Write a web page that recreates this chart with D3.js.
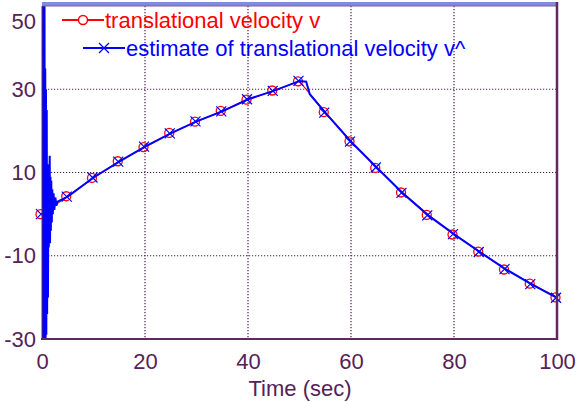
<!DOCTYPE html>
<html>
<head>
<meta charset="utf-8">
<script src="https://cdn.jsdelivr.net/npm/d3@7"></script>
<style>
  html, body { margin: 0; padding: 0; background: #ffffff; }
  svg { display: block; }
  text { font-family: "Liberation Sans", Arial, sans-serif; }
</style>
</head>
<body>
<svg id="chart" width="576" height="402"></svg>
<script>
// Sampled translational velocity v (every 5 s)
const timeV = [0, 5, 10, 15, 20, 25, 30, 35, 40, 45, 50, 55, 60, 65, 70, 75, 80, 85, 90, 95, 100];
const velocity = [0, 4.3, 8.7, 12.7, 16.1, 19.5, 22.2, 24.8, 27.5, 29.7, 31.9, 24.5, 17.5, 11.1, 5.2, -0.2, -4.9, -9.0, -13.3, -16.7, -20.0];

// Observer estimate v^ : start-up transient, then tracking
const timeEst = [0, 0.07, 0.14, 0.21, 0.28, 0.35, 0.42, 0.49, 0.56, 0.63, 0.7, 0.77, 0.84, 0.92, 1.0,
                 1.08, 1.16, 1.24, 1.32, 1.4, 1.5, 1.56, 1.64, 1.72, 1.8, 1.9, 2.0, 2.1, 2.25, 2.4, 2.6, 2.8, 3.0,
                 5, 10, 15, 20, 25, 30, 35, 40, 45, 50, 51.3, 52, 55, 60, 65, 70, 75, 80, 85, 90, 95, 100];
const estimate = [0, 58, -31, 57, -31, 56, -31, 50, -31, 35, -31, 30, -29, 25, -24,
                  12, -20, 7, -8, 6, 14, -7, 9, -4, 8, -2, 6, 0, 5, 1, 4, 2, 3,
                  4.2, 8.8, 12.6, 16.2, 19.4, 22.3, 24.7, 27.6, 29.6, 32.0, 31.8, 28.8, 24.4, 17.4, 11.2, 5.1, -0.3, -4.8, -9.1, -13.2, -16.8, -20.1];

// Axis ticks
const xTicks = [0, 20, 40, 60, 80, 100];
const yTicks = [-30, -10, 10, 30, 50];

const legendLabels = ["translational velocity v", "estimate of translational velocity v^"];

const axisColor = "#5e2a60";
const gridColor = "#4a1c4c";
const labelColor = "#552257";
const red = "#ff0000";
const blue = "#0000ff";

const svg = d3.select("#chart");
const plotLeft = 42, plotRight = 557, plotTop = 6, plotBottom = 339;

const x = d3.scaleLinear().domain([0, 100]).range([plotLeft, plotRight]);
const y = d3.scaleLinear().domain([-30, 50]).range([plotBottom, plotTop]);

// Dotted grid
const grid = svg.append("g");
grid.selectAll("line.gx").data(xTicks.filter(t => t > 0 && t < 100)).enter().append("line")
  .attr("x1", d => x(d)).attr("x2", d => x(d)).attr("y1", plotTop).attr("y2", plotBottom)
  .attr("stroke", gridColor).attr("stroke-width", 1.2).attr("stroke-dasharray", "1.2,1.8");
grid.selectAll("line.gy").data(yTicks.filter(t => t > -30 && t < 50)).enter().append("line")
  .attr("x1", plotLeft).attr("x2", plotRight).attr("y1", d => y(d)).attr("y2", d => y(d))
  .attr("stroke", gridColor).attr("stroke-width", 1.2).attr("stroke-dasharray", "1.2,1.8");

// Axes
const fmt = d => String(d);
const xAxis = svg.append("g").attr("transform", `translate(0,${plotBottom})`)
  .call(d3.axisBottom(x).tickValues(xTicks).tickSize(0).tickPadding(14).tickFormat(fmt));
const yAxis = svg.append("g").attr("transform", `translate(${plotLeft},0)`)
  .call(d3.axisLeft(y).tickValues(yTicks).tickSize(0).tickPadding(6).tickFormat(fmt));
[xAxis, yAxis].forEach(a => {
  a.select(".domain").remove();
  a.selectAll("text").attr("fill", labelColor).style("font-size", "22px")
    .style("font-family", '"Liberation Sans", Arial, sans-serif');
});
// top label sits just inside the frame
yAxis.selectAll(".tick").filter(d => d === 50).select("text").attr("dy", "1.0em");

svg.append("text").attr("x", 300).attr("y", 396).attr("text-anchor", "middle")
  .attr("fill", labelColor).style("font-size", "22px").text("Time (sec)");

// Data
svg.append("clipPath").attr("id", "plotclip").append("rect")
  .attr("x", plotLeft).attr("y", plotTop).attr("width", plotRight - plotLeft).attr("height", plotBottom - plotTop);

const line = d3.line().x(d => x(d[0])).y(d => y(d[1]));
const vData = timeV.map((t, i) => [t, velocity[i]]);
const eData = timeEst.map((t, i) => [t, estimate[i]]);

svg.append("path").datum(vData).attr("d", line).attr("fill", "none")
  .attr("stroke", red).attr("stroke-width", 1.2).attr("clip-path", "url(#plotclip)");

svg.selectAll("circle.v").data(vData).enter().append("circle")
  .attr("cx", d => x(d[0]) - 1.5).attr("cy", d => y(d[1])).attr("r", 4.5)
  .attr("fill", "none").attr("stroke", red).attr("stroke-width", 1.3);

svg.append("path").datum(eData).attr("d", line).attr("fill", "none")
  .attr("stroke", blue).attr("stroke-width", 2).attr("stroke-linejoin", "miter")
  .attr("clip-path", "url(#plotclip)");

const crossSize = 5;
const crosses = eData.filter(d => d[0] % 5 === 0);
const cross = svg.append("g");
crosses.forEach(d => {
  const cx = x(d[0]) - 1, cy = y(d[1]);
  cross.append("path")
    .attr("d", `M${cx - crossSize},${cy - crossSize}L${cx + crossSize},${cy + crossSize}M${cx - crossSize},${cy + crossSize}L${cx + crossSize},${cy - crossSize}`)
    .attr("stroke", blue).attr("stroke-width", 1.2).attr("fill", "none");
});

// Frame
svg.append("rect").attr("x", plotLeft).attr("y", 2).attr("width", plotRight - plotLeft + 1).attr("height", 4).attr("fill", "#7b8ddb");
svg.append("line").attr("x1", plotLeft).attr("x2", plotRight + 1).attr("y1", plotTop).attr("y2", plotTop).attr("stroke", "#8a5a98").attr("stroke-width", 1);
svg.append("line").attr("x1", plotRight).attr("x2", plotRight).attr("y1", 2).attr("y2", plotBottom + 1).attr("stroke", axisColor).attr("stroke-width", 2.5);
svg.append("line").attr("x1", plotLeft - 1).attr("x2", plotRight + 1).attr("y1", plotBottom).attr("y2", plotBottom).attr("stroke", axisColor).attr("stroke-width", 2);
svg.append("line").attr("x1", plotLeft).attr("x2", plotLeft).attr("y1", plotTop).attr("y2", plotBottom).attr("stroke", axisColor).attr("stroke-width", 1);

// Legend
const lg = svg.append("g");
lg.append("line").attr("x1", 62).attr("x2", 104).attr("y1", 20).attr("y2", 20).attr("stroke", red).attr("stroke-width", 2);
lg.append("circle").attr("cx", 83).attr("cy", 20).attr("r", 4.5).attr("fill", "#fff").attr("stroke", red).attr("stroke-width", 1.5);
lg.append("text").attr("x", 105).attr("y", 28).attr("fill", red).style("font-size", "22px").text(legendLabels[0]);

lg.append("line").attr("x1", 83).attr("x2", 125).attr("y1", 48).attr("y2", 48).attr("stroke", blue).attr("stroke-width", 2);
lg.append("path").attr("d", `M${104 - crossSize},${48 - crossSize}L${104 + crossSize},${48 + crossSize}M${104 - crossSize},${48 + crossSize}L${104 + crossSize},${48 - crossSize}`)
  .attr("stroke", blue).attr("stroke-width", 1.3);
lg.append("text").attr("x", 126).attr("y", 56).attr("fill", blue).style("font-size", "22px").text(legendLabels[1]);
</script>
</body>
</html>
